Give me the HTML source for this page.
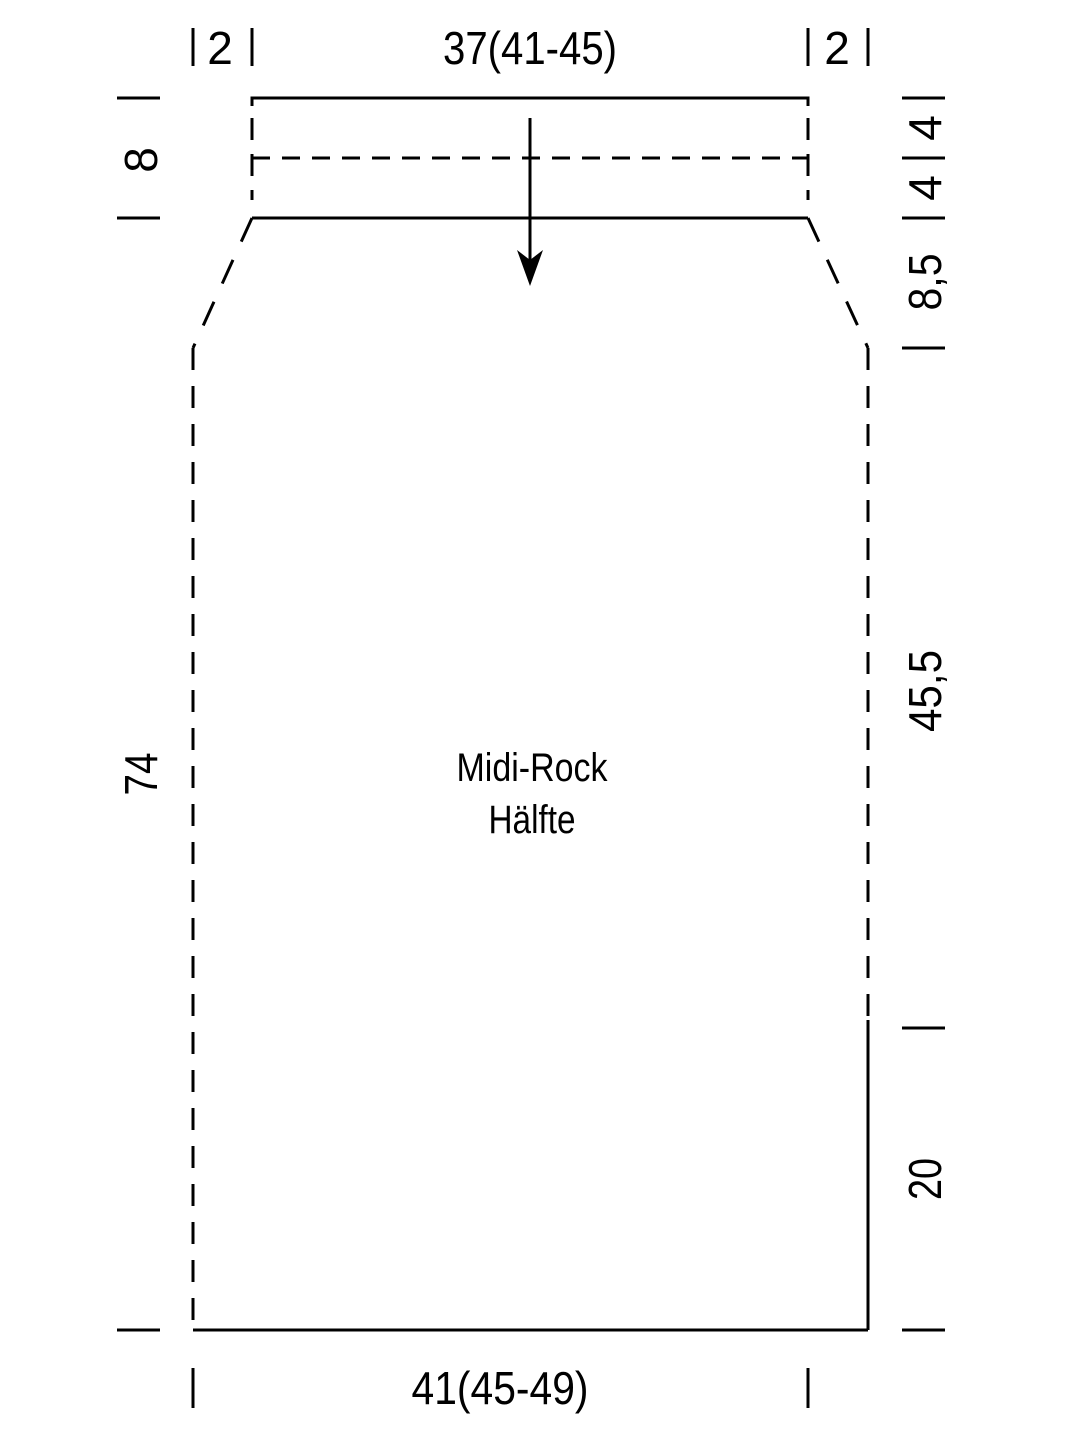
<!DOCTYPE html>
<html><head><meta charset="utf-8"><style>html,body{margin:0;padding:0;background:#fff}svg{display:block}</style></head>
<body>
<svg width="1080" height="1440" viewBox="0 0 1080 1440" xmlns="http://www.w3.org/2000/svg" font-family="Liberation Sans, sans-serif" fill="#000">
<g stroke="#000" stroke-width="3" fill="none">
<!-- top ticks -->
<line x1="193" y1="28" x2="193" y2="66"/><line x1="252" y1="28" x2="252" y2="66"/>
<line x1="808" y1="28" x2="808" y2="66"/><line x1="868" y1="28" x2="868" y2="66"/>
<!-- waistband -->
<polyline points="252,106 252,98 808,98 808,106"/>
<line x1="252" y1="218" x2="808" y2="218"/>
<g stroke-dasharray="22,14">
<line x1="252" y1="118" x2="252" y2="200"/><line x1="808" y1="118" x2="808" y2="200"/>
</g>
<line x1="252" y1="158" x2="808" y2="158" stroke-dasharray="18,12"/>
<!-- diagonals -->
<line x1="252" y1="218" x2="193" y2="348" stroke-dasharray="26,20"/>
<line x1="808" y1="218" x2="868" y2="348" stroke-dasharray="26,20"/>
<!-- sides -->
<line x1="193" y1="348" x2="193" y2="1330" stroke-dasharray="22,16"/>
<line x1="868" y1="348" x2="868" y2="1020" stroke-dasharray="22,16"/>
<line x1="868" y1="1020" x2="868" y2="1330"/>
<line x1="193" y1="1330" x2="868" y2="1330"/>
<!-- arrow -->
<line x1="530" y1="118" x2="530" y2="262"/>
<!-- left ticks -->
<line x1="117" y1="98" x2="160" y2="98"/><line x1="117" y1="218" x2="160" y2="218"/><line x1="117" y1="1330" x2="160" y2="1330"/>
<!-- right ticks -->
<line x1="902" y1="98" x2="945" y2="98"/><line x1="902" y1="158" x2="945" y2="158"/><line x1="902" y1="218" x2="945" y2="218"/>
<line x1="902" y1="348" x2="945" y2="348"/><line x1="902" y1="1028" x2="945" y2="1028"/><line x1="902" y1="1330" x2="945" y2="1330"/>
<!-- bottom ticks -->
<line x1="193" y1="1368" x2="193" y2="1408"/><line x1="808" y1="1368" x2="808" y2="1408"/>
</g>
<polygon points="530,286 517,250 530,260 543,250"/>
<g font-size="46" text-anchor="middle">
<text x="220" y="64">2</text>
<text x="837" y="64">2</text>
<text x="530" y="64" textLength="174" lengthAdjust="spacingAndGlyphs">37(41-45)</text>
<text x="500" y="1404" textLength="177" lengthAdjust="spacingAndGlyphs">41(45-49)</text>
<text transform="translate(157,160) rotate(-90)">8</text>
<text transform="translate(157,774) rotate(-90)" textLength="43" lengthAdjust="spacingAndGlyphs">74</text>
<text transform="translate(941,128) rotate(-90)">4</text>
<text transform="translate(941,188) rotate(-90)">4</text>
<text transform="translate(941,282) rotate(-90)" textLength="57" lengthAdjust="spacingAndGlyphs">8,5</text>
<text transform="translate(941,691) rotate(-90)" textLength="82" lengthAdjust="spacingAndGlyphs">45,5</text>
<text transform="translate(941,1179) rotate(-90)" textLength="42" lengthAdjust="spacingAndGlyphs">20</text>
</g>
<g font-size="40" text-anchor="middle">
<text x="532" y="781" textLength="151" lengthAdjust="spacingAndGlyphs">Midi-Rock</text>
<text x="532" y="833" textLength="87" lengthAdjust="spacingAndGlyphs">Hälfte</text>
</g>
</svg>
</body></html>
